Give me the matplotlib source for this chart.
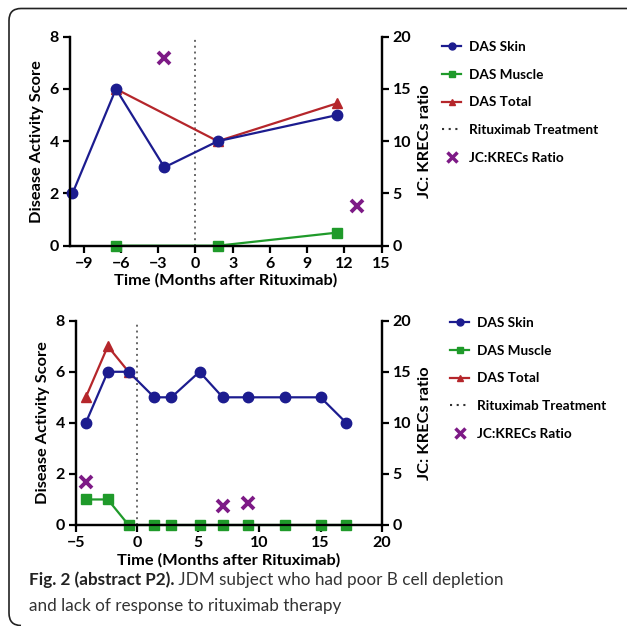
import matplotlib
matplotlib.use('Agg')
import matplotlib.pyplot as plt
from matplotlib.lines import Line2D
from matplotlib.path import Path
from matplotlib.patches import PathPatch

plt.rcParams['font.family'] = ['Lato', 'DejaVu Sans']

# data
# top panel
top_skin_x = [-9.9, -6.4, -2.5, 1.8, 11.4]
top_skin_y = [2, 6, 3, 4, 5]
top_muscle_x = [-6.4, 1.8, 11.4]
top_muscle_y = [0, 0, 0.5]
top_total_x = [-6.4, 1.8, 11.4]
top_total_y = [6, 4, 5.45]
top_jc_x = [-2.5, 13.0]
top_jc_y = [18.0, 3.8]
top_xticks = [-9, -6, -3, 0, 3, 6, 9, 12, 15]

# bottom panel
bot_x = [-4.2, -2.4, -0.7, 1.4, 2.8, 5.1, 7.0, 9.1, 12.1, 15.0, 17.1]
bot_skin_y = [4, 6, 6, 5, 5, 6, 5, 5, 5, 5, 4]
bot_muscle_y = [1, 1, 0, 0, 0, 0, 0, 0, 0, 0, 0]
bot_total_x = [-4.2, -2.4, -0.7]
bot_total_y = [5, 7, 6]
bot_jc_x = [-4.2, 7.0, 9.1]
bot_jc_y = [4.2, 1.9, 2.2]
bot_xticks = [-5, 0, 5, 10, 15, 20]

labels = ['DAS Skin', 'DAS Muscle', 'DAS Total', 'Rituximab Treatment', 'JC:KRECs Ratio']
blue = '#1c1c8f'
green = '#1f9a2a'
red = '#b5262b'
purple = '#7d1a86'

fig = plt.figure(figsize=(6.27, 6.26), dpi=100)
W, H = 627.0, 626.0


def panel(rect, skin, muscle, total, jc, xlim, xticks, leg_xy):
    ax = fig.add_axes(rect)
    ax2 = ax.twinx()
    ax.set_zorder(ax2.get_zorder() + 1)
    ax.patch.set_visible(False)
    ax.axvline(0, color='#666666', ls=(0, (1, 2.0)), lw=1.4, zorder=1)
    ax.plot(total[0], total[1], color=red, marker='^', ms=7.5, lw=1.6, clip_on=False, zorder=2)
    ax.plot(skin[0], skin[1], color=blue, marker='o', ms=7.5, lw=1.6, clip_on=False, zorder=2.1)
    ax.plot(muscle[0], muscle[1], color=green, marker='s', ms=7, lw=1.6, clip_on=False, zorder=2)
    ax2.plot(jc[0], jc[1], ls='none', marker='x', color=purple, ms=9, mew=2.8, clip_on=False)
    ax.set_xlim(xlim)
    ax.set_ylim(0, 8)
    ax2.set_ylim(0, 20)
    ax.set_xticks(xticks)
    ax.set_yticks([0, 2, 4, 6, 8])
    ax2.set_yticks([0, 5, 10, 15, 20])
    for a in (ax, ax2):
        a.spines['top'].set_visible(False)
        for s in a.spines.values():
            s.set_linewidth(1.6)
            s.set_zorder(3)
        a.tick_params(width=1.6, length=5, labelsize=11.5, pad=3)
        for t in a.get_xticklabels() + a.get_yticklabels():
            t.set_fontweight('bold')
    ax.set_ylabel('Disease Activity Score', fontsize=11.8, fontweight='bold', labelpad=4)
    ax2.set_ylabel('JC: KRECs ratio', fontsize=11.8, fontweight='bold', labelpad=5)
    ax.set_xlabel('Time (Months after Rituximab)', fontsize=11.8, fontweight='bold', labelpad=2)
    # legend
    handles = [
        Line2D([], [], color=blue, marker='o', ms=5, lw=1.6),
        Line2D([], [], color=green, marker='s', ms=5, lw=1.6),
        Line2D([], [], color=red, marker='^', ms=5, lw=1.6),
        Line2D([], [], color='#333333', ls=(0, (1, 2.2)), lw=1.5),
        Line2D([], [], color=purple, marker='x', ls='none', ms=7, mew=2.5),
    ]
    leg = fig.legend(handles, labels, loc='upper left', bbox_to_anchor=leg_xy,
                     frameon=False, fontsize=9.8, handlelength=1.4, handletextpad=0.6,
                     labelspacing=1.15, borderpad=0, borderaxespad=0)
    for t in leg.get_texts():
        t.set_fontweight('bold')
    return ax


panel([70 / W, 1 - 245.7 / H, 311.7 / W, 209 / H],
      (top_skin_x, top_skin_y), (top_muscle_x, top_muscle_y),
      (top_total_x, top_total_y), (top_jc_x, top_jc_y),
      (-10.1, 15), top_xticks, (442 / W, 1 - 41 / H))

panel([76 / W, 1 - 525 / H, 305.7 / W, 204.3 / H],
      (bot_x, bot_skin_y), (bot_x, bot_muscle_y),
      (bot_total_x, bot_total_y), (bot_jc_x, bot_jc_y),
      (-5, 20), bot_xticks, (450 / W, 1 - 317 / H))

# caption
t = fig.text(29 / W, 1 - 585 / H, 'Fig. 2 (abstract P2).', fontsize=12.3, fontweight='bold',
             color='#222222', va='baseline')
plt.annotate(' JDM subject who had poor B cell depletion', xy=(1, 0), xycoords=t,
             fontsize=12.3, color='#333333', va='bottom')
fig.text(29 / W, 1 - 611 / H, 'and lack of response to rituximab therapy', fontsize=12.3,
         color='#333333', va='baseline')

# frame around figure
r = 12
verts = [(21, 625.5), (9, 625.5), (9, 613), (9, 8.5 + r), (9, 8.5), (9 + r, 8.5), (627, 8.5)]
codes = [Path.MOVETO, Path.CURVE3, Path.CURVE3, Path.LINETO, Path.CURVE3, Path.CURVE3, Path.LINETO]
verts = [(x / W, 1 - y / H) for x, y in verts]
fig.add_artist(PathPatch(Path(verts, codes), fill=False, lw=1.2, edgecolor='#222222',
                         transform=fig.transFigure))

fig.savefig('out.png', dpi=100)
